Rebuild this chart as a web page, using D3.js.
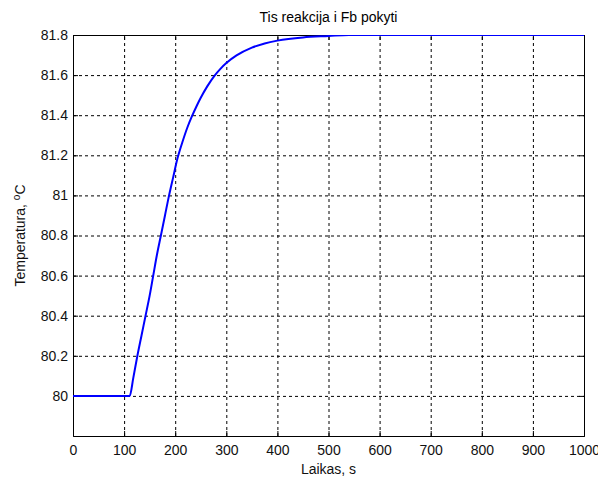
<!DOCTYPE html>
<html>
<head>
<meta charset="utf-8">
<script src="https://cdn.jsdelivr.net/npm/d3@7"></script>
<style>
  body { margin: 0; background: #fff; }
  text { font-family: Arial, "Liberation Sans", sans-serif; }
</style>
</head>
<body>
<svg id="chart" width="598" height="479"></svg>
<script>
var timeS = [0, 111, 118, 126, 134, 142, 150, 157, 164, 172, 180, 188, 196, 204, 214, 224, 232, 242, 250, 263, 276, 288, 300, 320, 350, 375, 400, 450, 500, 540, 1000];
var tempC = [80, 80, 80.09, 80.2, 80.3, 80.4, 80.5, 80.6, 80.7, 80.8, 80.9, 81.0, 81.09, 81.18, 81.265, 81.34, 81.39, 81.446, 81.487, 81.545, 81.594, 81.63, 81.66, 81.698, 81.737, 81.758, 81.772, 81.788, 81.795, 81.8, 81.8];
var xTicks = [0, 100, 200, 300, 400, 500, 600, 700, 800, 900, 1000];
var yTicks = [80, 80.2, 80.4, 80.6, 80.8, 81, 81.2, 81.4, 81.6, 81.8];

var margin = {left: 73, right: 14, top: 35, bottom: 43};
var svg = d3.select('#chart');
var W = 598, H = 479;
var w = W - margin.left - margin.right;
var h = H - margin.top - margin.bottom;

var x = d3.scaleLinear().domain([0, 1000]).range([0, w]);
var y = d3.scaleLinear().domain([79.8, 81.8]).range([h, 0]);

var g = svg.append('g').attr('transform', 'translate(' + margin.left + ',' + margin.top + ')');

// dotted grid
g.append('g')
    .attr('class', 'grid')
    .attr('transform', 'translate(0,' + h + ')')
    .call(d3.axisBottom(x).tickValues(xTicks).tickSize(-h).tickFormat(''))
g.append('g')
    .attr('class', 'grid')
    .call(d3.axisLeft(y).tickValues(yTicks).tickSize(-w).tickFormat(''))
g.selectAll('.grid .domain').remove()
g.selectAll('.grid line')
    .attr('stroke', '#000')
    .attr('stroke-width', 1)
    .attr('stroke-dasharray', '3,3')

// axes with ticks pointing inward
var fmt = d => String(+d.toFixed(1));
g.append('g')
    .attr('transform', 'translate(0,' + h + ')')
    .call(d3.axisBottom(x).tickValues(xTicks).tickSize(-5).tickPadding(9).tickFormat(fmt))
g.append('g')
    .call(d3.axisLeft(y).tickValues(yTicks).tickSize(-5).tickPadding(5).tickFormat(fmt))
g.append('g')
    .call(d3.axisTop(x).tickValues(xTicks).tickSize(-5).tickFormat(''))
g.append('g')
    .attr('transform', 'translate(' + w + ',0)')
    .call(d3.axisRight(y).tickValues(yTicks).tickSize(-5).tickFormat(''))

g.selectAll('.domain').attr('stroke', '#000')
g.selectAll('.tick line').attr('stroke', '#000')
g.selectAll('.tick text')
    .attr('fill', '#111')
    .style('font-size', '14px')
    .style('font-family', 'Arial, "Liberation Sans", sans-serif')

// clip and response curve
svg.append('defs').append('clipPath').attr('id', 'clip')
    .append('rect').attr('x', 0).attr('y', 0).attr('width', w).attr('height', h)

var pts = timeS.map((t, i) => [t, tempC[i]]);
var line = d3.line()
    .x(d => x(d[0]))
    .y(d => y(d[1]))
    .curve(d3.curveMonotoneX)

g.append('path')
    .datum(pts)
    .attr('clip-path', 'url(#clip)')
    .attr('fill', 'none')
    .attr('stroke', '#0000ff')
    .attr('stroke-width', 2)
    .attr('d', line)

// titles
svg.append('text')
    .attr('x', margin.left + w / 2)
    .attr('y', 22)
    .attr('text-anchor', 'middle')
    .style('font-size', '14px')
    .attr('fill', '#000')
    .text('Tis reakcija i Fb pokyti')

svg.append('text')
    .attr('x', margin.left + w / 2)
    .attr('y', 474)
    .attr('text-anchor', 'middle')
    .style('font-size', '14px')
    .attr('fill', '#111')
    .text('Laikas, s')

var yl = svg.append('text')
    .attr('transform', 'translate(25,' + (margin.top + h / 2) + ') rotate(-90)')
    .attr('text-anchor', 'middle')
    .style('font-size', '14px')
    .attr('fill', '#111')
yl.append('tspan').text('Temperatura, ')
yl.append('tspan').attr('dy', -5).style('font-size', '10px').text('o')
yl.append('tspan').attr('dy', 5).text('C')
</script>
</body>
</html>
